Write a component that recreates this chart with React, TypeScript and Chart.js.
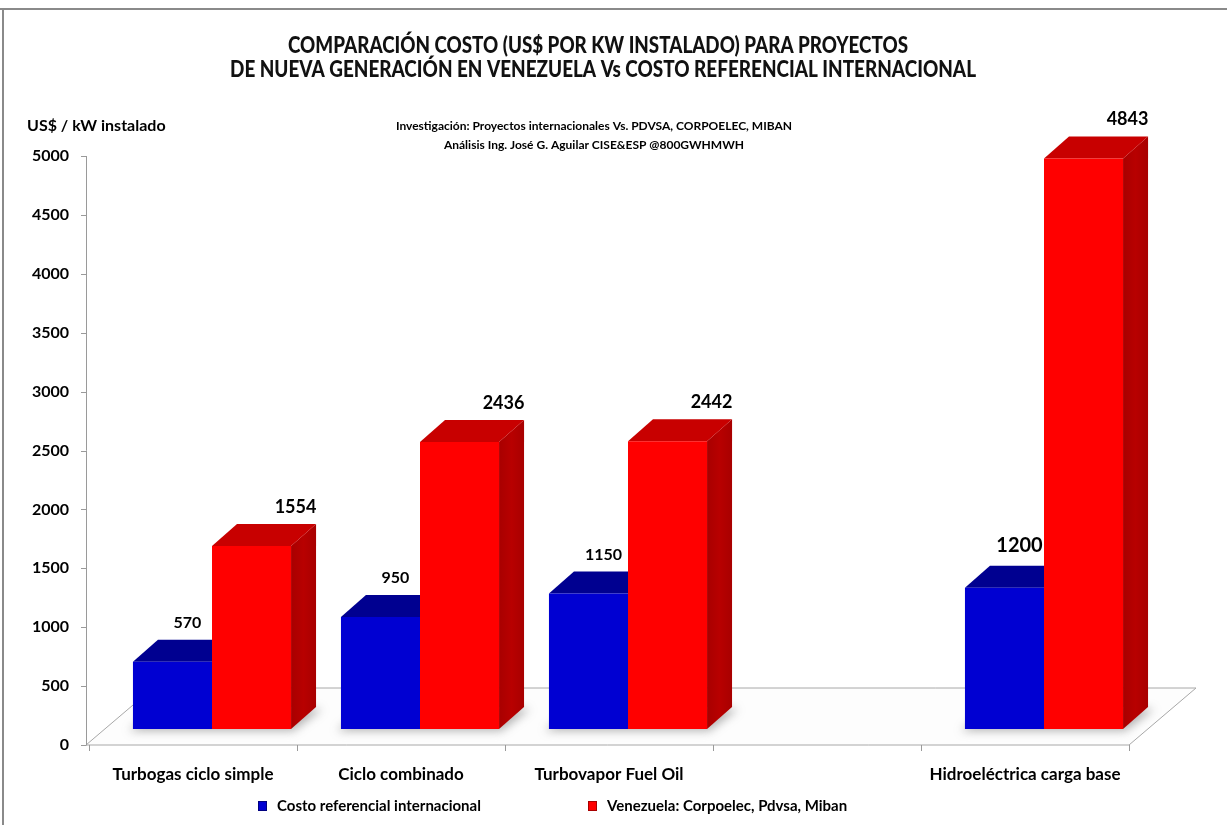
import React, { useEffect, useRef } from 'react';
import { Chart, registerables } from 'chart.js';

Chart.register(...registerables);

// ---------- DATA ----------
const categories = [
  'Turbogas ciclo simple',
  'Ciclo combinado',
  'Turbovapor Fuel Oil',
  '',
  'Hidroeléctrica carga base',
];
const seriesNames = ['Costo referencial internacional', 'Venezuela: Corpoelec, Pdvsa, Miban'];
const costoReferencial: (number | null)[] = [570, 950, 1150, null, 1200];
const venezuela: (number | null)[] = [1554, 2436, 2442, null, 4843];
const yMin = 0;
const yMax = 5000;
const yStep = 500;

const titleLines = [
  'COMPARACIÓN COSTO (US$ POR KW INSTALADO) PARA PROYECTOS',
  'DE NUEVA GENERACIÓN EN VENEZUELA Vs COSTO REFERENCIAL INTERNACIONAL',
];
const subtitleLines = [
  'Investigación: Proyectos internacionales Vs. PDVSA, CORPOELEC, MIBAN',
  'Análisis Ing. José G. Aguilar CISE&ESP @800GWHMWH',
];
const yAxisTitle = 'US$ / kW instalado';

// ---------- STYLE ----------
const FONT = 'Lato, "Noto Sans", sans-serif';
const FRONT = ['#0000d2', '#ff0000'];
const TOP = ['#000090', '#c80000'];
const SIDE = ['#000080', '#a80000'];
const DX = 25; // depth x
const DY = 22; // depth y
const AXIS_SHIFT_Y = 16; // axis drawn below bar base (3D projection)
const AXIS_SHIFT_X = -22;
const LABEL_DX = [15, 44];
const LABEL_SIZE = [
  [16, 16, 16, 16, 20],
  [18, 18, 18, 18, 18],
];

const threeD = {
  id: 'threeD',
  beforeDraw(chart: any) {
    const ctx = chart.ctx;
    ctx.save();
    ctx.fillStyle = '#ffffff';
    ctx.fillRect(0, 0, chart.width, chart.height);
    ctx.restore();
  },
  beforeDatasetsDraw(chart: any) {
    const ctx = chart.ctx;
    const xs = chart.scales.x;
    const ys = chart.scales.y;
    const area = chart.chartArea;
    const y0 = ys.getPixelForValue(0) + AXIS_SHIFT_Y;
    const yTop = ys.getPixelForValue(yMax) + AXIS_SHIFT_Y;
    const leftX = area.left + AXIS_SHIFT_X;
    const catW = xs.getPixelForValue(1) - xs.getPixelForValue(0);
    const frontRight = xs.getPixelForValue(categories.length - 1) + catW / 2 - 19;
    const backDX = 67;
    const backDY = 57;

    ctx.save();
    // floor
    ctx.beginPath();
    ctx.moveTo(leftX, y0);
    ctx.lineTo(frontRight, y0);
    ctx.lineTo(frontRight + backDX, y0 - backDY);
    ctx.lineTo(leftX + backDX, y0 - backDY);
    ctx.closePath();
    ctx.fillStyle = '#fdfdfd';
    ctx.fill();
    ctx.strokeStyle = '#a8a8a8';
    ctx.lineWidth = 1;
    ctx.stroke();

    // y axis line and ticks
    ctx.strokeStyle = '#9a9a9a';
    ctx.beginPath();
    ctx.moveTo(leftX + 0.5, yTop);
    ctx.lineTo(leftX + 0.5, y0);
    for (let v = yMin; v <= yMax; v += yStep) {
      const py = Math.round(ys.getPixelForValue(v) + AXIS_SHIFT_Y) + 0.5;
      ctx.moveTo(leftX - 5, py);
      ctx.lineTo(leftX + 0.5, py);
    }
    // x axis category ticks
    for (let i = 0; i <= categories.length; i++) {
      const px = Math.round(xs.getPixelForValue(0) - catW / 2 - 19 + i * catW) + 0.5;
      ctx.moveTo(px, y0);
      ctx.lineTo(px, y0 + 6);
    }
    ctx.stroke();

    // shadows on the floor
    const m0 = chart.getDatasetMeta(0);
    const m1 = chart.getDatasetMeta(1);
    for (let j = 0; j < categories.length; j++) {
      const a = m0.data[j];
      const b = m1.data[j];
      if (costoReferencial[j] == null || venezuela[j] == null) continue;
      const pa = a.getProps(['x', 'y', 'base', 'width'], true);
      const pb = b.getProps(['x', 'y', 'base', 'width'], true);
      const x1 = pa.x - pa.width / 2;
      const x2 = pb.x + pb.width / 2;
      const base = pa.base;
      ctx.save();
      ctx.filter = 'blur(5px)';
      ctx.fillStyle = 'rgba(90,90,90,0.45)';
      ctx.beginPath();
      ctx.moveTo(x1 - 4, base + 2);
      ctx.lineTo(x2 + 2, base + 2);
      ctx.lineTo(x2 + DX + 6, base - DY + 2);
      ctx.lineTo(x1 + DX, base - DY);
      ctx.closePath();
      ctx.fill();
      ctx.restore();
    }

    // top and side faces
    [0, 1].forEach((di) => {
      const meta = chart.getDatasetMeta(di);
      const data = chart.data.datasets[di].data;
      meta.data.forEach((el: any, j: number) => {
        if (data[j] == null) return;
        const p = el.getProps(['x', 'y', 'base', 'width'], true);
        const x1 = p.x - p.width / 2;
        const x2 = p.x + p.width / 2;
        // side
        const g = ctx.createLinearGradient(x2, 0, x2 + DX, 0);
        g.addColorStop(0, SIDE[di]);
        g.addColorStop(0.5, di === 1 ? '#b80000' : '#00008c');
        g.addColorStop(1, SIDE[di]);
        ctx.fillStyle = g;
        ctx.beginPath();
        ctx.moveTo(x2, p.y);
        ctx.lineTo(x2 + DX, p.y - DY);
        ctx.lineTo(x2 + DX, p.base - DY);
        ctx.lineTo(x2, p.base);
        ctx.closePath();
        ctx.fill();
        // top
        ctx.fillStyle = TOP[di];
        ctx.beginPath();
        ctx.moveTo(x1, p.y);
        ctx.lineTo(x2, p.y);
        ctx.lineTo(x2 + DX, p.y - DY);
        ctx.lineTo(x1 + DX, p.y - DY);
        ctx.closePath();
        ctx.fill();
      });
    });
    ctx.restore();
  },
  afterDatasetsDraw(chart: any) {
    const ctx = chart.ctx;
    ctx.save();
    ctx.fillStyle = '#000';
    ctx.textAlign = 'center';
    ctx.textBaseline = 'middle';
    [0, 1].forEach((di) => {
      const meta = chart.getDatasetMeta(di);
      const data = chart.data.datasets[di].data;
      meta.data.forEach((el: any, j: number) => {
        const v = data[j];
        if (v == null) return;
        const p = el.getProps(['x', 'y'], true);
        const size = LABEL_SIZE[di][j];
        ctx.font = `bold ${size}px ${FONT}`;
        ctx.fillText(String(v), p.x + LABEL_DX[di], p.y - (size > 18 ? 42 : 39));
      });
    });
    ctx.restore();
  },
  afterDraw(chart: any) {
    const ctx = chart.ctx;
    ctx.save();
    // frame
    ctx.strokeStyle = '#8a8a8a';
    ctx.lineWidth = 2;
    ctx.beginPath();
    ctx.moveTo(0, 9);
    ctx.lineTo(chart.width, 9);
    ctx.moveTo(3, 9);
    ctx.lineTo(3, chart.height);
    ctx.stroke();

    ctx.fillStyle = '#111';
    ctx.textAlign = 'center';
    ctx.textBaseline = 'middle';
    ctx.font = `900 22px ${FONT}`;
    ctx.fillText(titleLines[0], 598, 46, 620);
    ctx.fillText(titleLines[1], 603, 70, 746);

    ctx.fillStyle = '#000';
    ctx.font = `bold 12px ${FONT}`;
    ctx.fillText(subtitleLines[0], 594, 126, 412);
    ctx.fillText(subtitleLines[1], 594, 145, 313);

    ctx.textAlign = 'left';
    ctx.font = `bold 16px ${FONT}`;
    ctx.fillText(yAxisTitle, 27, 126, 140);

    // legend
    const legendX = [258, 588];
    const legendW = [210, 247];
    chart.data.datasets.forEach((ds: any, i: number) => {
      const lx = legendX[i];
      ctx.fillStyle = FRONT[i];
      ctx.fillRect(lx, 801, 9, 10);
      ctx.strokeStyle = SIDE[i];
      ctx.lineWidth = 1;
      ctx.strokeRect(lx + 0.5, 801.5, 8, 9);
      ctx.fillStyle = '#000';
      ctx.font = `bold 15px ${FONT}`;
      ctx.textAlign = 'left';
      ctx.fillText(ds.label, lx + 19, 806, legendW[i]);
    });
    ctx.restore();
  },
};

export default function App() {
  const ref = useRef<HTMLCanvasElement | null>(null);
  useEffect(() => {
    if (!ref.current) return;
    const chart = new Chart(ref.current, {
      type: 'bar',
      data: {
        labels: categories,
        datasets: [
          { label: seriesNames[0], data: costoReferencial, backgroundColor: FRONT[0], borderWidth: 0 },
          { label: seriesNames[1], data: venezuela, backgroundColor: FRONT[1], borderWidth: 0 },
        ],
      },
      options: {
        animation: false,
        responsive: false,
        devicePixelRatio: 1,
        layout: { padding: { top: 140, right: 79, bottom: 0, left: 0 } },
        datasets: { bar: { categoryPercentage: 0.76, barPercentage: 1 } },
        plugins: {
          legend: { display: false },
          title: { display: false },
          tooltip: { enabled: false },
        },
        scales: {
          x: {
            grid: { display: false, drawTicks: false },
            border: { display: false },
            ticks: {
              color: '#000',
              font: { family: FONT, size: 17, weight: 'bold' },
              labelOffset: -19,
              padding: 35,
              maxRotation: 0,
              autoSkip: false,
            },
            afterFit: (s: any) => {
              s.height = 96;
            },
          },
          y: {
            min: yMin,
            max: yMax,
            grid: { display: false, drawTicks: false },
            border: { display: false },
            ticks: {
              stepSize: yStep,
              color: '#000',
              font: { family: FONT, size: 16, weight: 'bold' },
              labelOffset: AXIS_SHIFT_Y,
              padding: 39,
              callback: (v: any) => String(v),
            },
            afterFit: (s: any) => {
              s.width = 108;
            },
          },
        },
      } as any,
      plugins: [threeD],
    });
    return () => chart.destroy();
  }, []);
  return (
    <div style={{ position: 'fixed', left: 0, top: 0, width: 1227, height: 825, background: '#fff' }}>
      <canvas ref={ref} width={1227} height={825} style={{ display: 'block', width: 1227, height: 825 }} />
    </div>
  );
}
